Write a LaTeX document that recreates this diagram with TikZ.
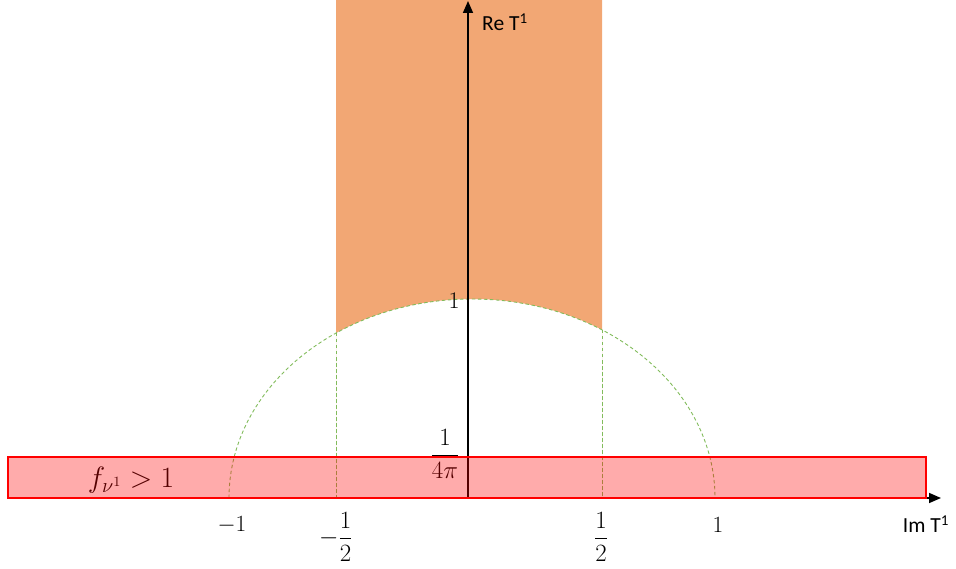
\documentclass[tikz,border=0pt]{standalone}
\usepackage{fontspec}
\setmainfont{Carlito}
\usetikzlibrary{arrows.meta}
\definecolor{regionorange}{RGB}{242,167,116}
\definecolor{guidegreen}{RGB}{130,188,92}
\begin{document}
\begin{tikzpicture}[x=1pt,y=-1pt,
  lbl/.style={font=\fontsize{20}{24}\selectfont, inner sep=0pt},
  txt/.style={font=\fontsize{21.5}{25}\selectfont, inner sep=0pt},
  axisline/.style={line width=1.6pt, -{Triangle[length=12pt,width=10pt]}},
  guide/.style={draw=guidegreen, line width=0.9pt, dash pattern=on 3.5pt off 2.5pt},
  band/.style={draw=red, line width=1.8pt, fill=red, fill opacity=0.33}]
\useasboundingbox (0,0) rectangle (956,569);
% orange region above the arc
\begin{scope}
  \clip (336,0) rectangle (602,498);
  \fill[regionorange, even odd rule] (336,-2) rectangle (602,498)
    (472,498) ellipse [x radius=243, y radius=199];
\end{scope}
% dashed arc and guides
\begin{scope}
  \clip (0,0) rectangle (956,498);
  \draw[guide] (472,498) ellipse [x radius=243, y radius=199];
\end{scope}
\coordinate (gl1) at (336,333);
\coordinate (gl2) at (336,498);
\coordinate (gr1) at (602,330);
\coordinate (gr2) at (602,498);
\coordinate (gb1) at (602,497);
\coordinate (gb2) at (715,497);
\draw[guide] (gl1) -- (gl2);
\draw[guide] (gr1) -- (gr2);
\draw[guide] (gb1) -- (gb2);
% axes
\coordinate (O) at (468,498);
\coordinate (ytip) at (468,1);
\coordinate (xtip) at (941,498);
\draw[axisline] (O) -- (ytip);
\draw[axisline] (O) -- (xtip);
% labels
\node[txt, anchor=west] (re) at (482,22) {Re T\textsuperscript{1}};
\node[txt] (im) at (926,524) {Im T\textsuperscript{1}};
\node[lbl] (one) at (454,301) {\scalebox{1.15}{$1$}};
\node[lbl] (quarter) at (445,454) {\scalebox{1.2}{$\displaystyle\frac{1}{4\pi}$}};
\node[lbl] (m1) at (232,525) {\scalebox{1.12}{$-1$}};
\node[lbl] (mhalf) at (336,537) {\scalebox{1.2}{$\displaystyle -\frac{1}{2}$}};
\node[lbl] (phalf) at (601,537) {\scalebox{1.2}{$\displaystyle\frac{1}{2}$}};
\node[lbl] (p1) at (718,525) {\scalebox{1.12}{$1$}};
\node[lbl] (fcond) at (131,480) {\scalebox{1.42}{$f_{\nu^1}>1$}};
% translucent red band
\draw[band] (8,457) rectangle (926,498);
\end{tikzpicture}
\end{document}
